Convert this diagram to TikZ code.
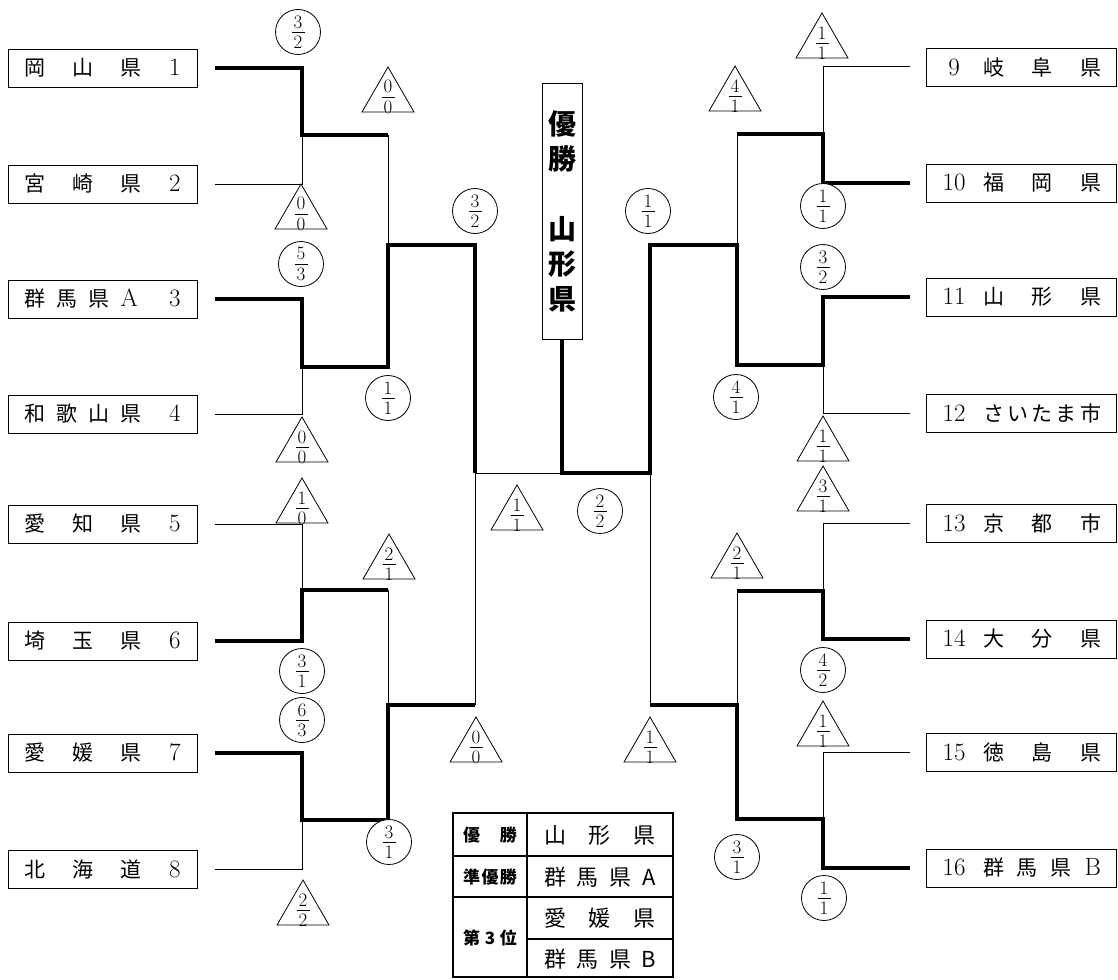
\documentclass[tikz,border=0pt]{standalone}
\usepackage{fontspec}
\newfontfamily\cjk{Noto Sans CJK JP}
\usetikzlibrary{shapes.geometric}
\newcommand\J[1]{{\cjk\fontsize{21}{24}\selectfont #1}}
\newcommand\scf[2]{{\fontsize{19}{22}\selectfont\vbox{\offinterlineskip\halign{\hfil##\hfil\cr #1\cr\noalign{\kern3.4pt}\rule{13pt}{0.6pt}\cr\noalign{\kern3.4pt}#2\cr}}}}
\begin{document}
\begin{tikzpicture}[x=1pt,y=-1pt,
 lose/.style={line width=1pt},
 win/.style={line width=3.2pt, line join=miter},
 lteam/.style={draw, line width=0.9pt, minimum width=189pt, minimum height=38pt, inner sep=0pt, font=\fontsize{25}{28}\selectfont},
 rteam/.style={lteam, minimum width=190pt},
 sc/.style={circle, draw, fill=white, line width=0.8pt, minimum size=45pt, inner sep=0pt},
 tri/.style={regular polygon, regular polygon sides=3, minimum size=60pt, draw, fill=white, line width=0.8pt, inner sep=0pt},
 champbox/.style={draw, line width=1pt, minimum width=40pt, minimum height=255pt, inner sep=0pt, align=center, font=\cjk\bfseries\fontsize{28}{35}\selectfont},
 hdr/.style={font=\cjk\bfseries\fontsize{17}{20}\selectfont, inner sep=0pt},
 res/.style={font=\cjk\fontsize{22}{26}\selectfont, inner sep=0pt},
 tbl/.style={line width=1.1pt}]
\useasboundingbox (0,0) rectangle (1118,979);

% ---------- left teams ----------
\node[lteam] (L1) at (102.5,68) {\hbox to 156pt{\J{岡}\hfil\J{山}\hfil\J{県}\hfil 1}};
\node[lteam] (L2) at (102.5,184) {\hbox to 156pt{\J{宮}\hfil\J{崎}\hfil\J{県}\hfil 2}};
\node[lteam] (L3) at (102.5,299) {\hbox to 156pt{\J{群}\hspace{11pt}\J{馬}\hspace{11pt}\J{県}\hspace{11pt}A\hfil 3}};
\node[lteam] (L4) at (102.5,414) {\hbox to 156pt{\J{和}\hspace{11pt}\J{歌}\hspace{11pt}\J{山}\hspace{11pt}\J{県}\hfil 4}};
\node[lteam] (L5) at (102.5,524) {\hbox to 156pt{\J{愛}\hfil\J{知}\hfil\J{県}\hfil 5}};
\node[lteam] (L6) at (102.5,641) {\hbox to 156pt{\J{埼}\hfil\J{玉}\hfil\J{県}\hfil 6}};
\node[lteam] (L7) at (102.5,753) {\hbox to 156pt{\J{愛}\hfil\J{媛}\hfil\J{県}\hfil 7}};
\node[lteam] (L8) at (102.5,869) {\hbox to 156pt{\J{北}\hfil\J{海}\hfil\J{道}\hfil 8}};

% ---------- right teams ----------
\node[rteam] (R9)  at (1021,67)  {\hbox to 160pt{\makebox[26pt]{9}\hspace{16pt}\J{岐}\hfil\J{阜}\hfil\J{県}}};
\node[rteam] (R10) at (1021,183) {\hbox to 160pt{\makebox[26pt]{10}\hspace{16pt}\J{福}\hfil\J{岡}\hfil\J{県}}};
\node[rteam] (R11) at (1021,297) {\hbox to 160pt{\makebox[26pt]{11}\hspace{16pt}\J{山}\hfil\J{形}\hfil\J{県}}};
\node[rteam] (R12) at (1021,413) {\hbox to 160pt{\makebox[26pt]{12}\hspace{16pt}\J{さ}\hfil\J{い}\hfil\J{た}\hfil\J{ま}\hfil\J{市}}};
\node[rteam] (R13) at (1021,523) {\hbox to 160pt{\makebox[26pt]{13}\hspace{16pt}\J{京}\hfil\J{都}\hfil\J{市}}};
\node[rteam] (R14) at (1021,639) {\hbox to 160pt{\makebox[26pt]{14}\hspace{16pt}\J{大}\hfil\J{分}\hfil\J{県}}};
\node[rteam] (R15) at (1021,752) {\hbox to 160pt{\makebox[26pt]{15}\hspace{16pt}\J{徳}\hfil\J{島}\hfil\J{県}}};
\node[rteam] (R16) at (1021,868) {\hbox to 160pt{\makebox[26pt]{16}\hspace{16pt}\J{群}\hfil\J{馬}\hfil\J{県}\hfil B}};

% ---------- champion ----------
\node[champbox] (champ) at (562,211.5) {優\\勝\\[35pt]山\\形\\県};

% ---------- junction coordinates ----------
\coordinate (a1) at (302,135); \coordinate (a2) at (388,135);
\coordinate (b1) at (302,367); \coordinate (b2) at (388,367);
\coordinate (c1) at (302,590); \coordinate (c2) at (388,590);
\coordinate (d1) at (302,820); \coordinate (d2) at (388,820);
\coordinate (ab) at (388,245); \coordinate (ab2) at (475,245);
\coordinate (cd) at (388,705); \coordinate (cd2) at (475,705);
\coordinate (fl) at (475,473);
\coordinate (fm) at (champ.south |- fl);
\coordinate (fr) at (650,473);
\coordinate (ef2) at (650,245); \coordinate (gh2) at (650,705);
\coordinate (ef) at (737,245); \coordinate (gh) at (737,705);
\coordinate (e1) at (823,134); \coordinate (e2) at (737,134);
\coordinate (f1) at (823,365); \coordinate (f2) at (737,365);
\coordinate (g1) at (823,591); \coordinate (g2) at (737,591);
\coordinate (h1) at (823,819); \coordinate (h2) at (737,819);

% ---------- losing lines ----------
\draw[lose] ([xshift=18pt]L2.east) -| (a1);
\draw[lose] ([xshift=18pt]L4.east) -| (b1);
\draw[lose] ([xshift=18pt]L5.east) -| (c1);
\draw[lose] ([xshift=18pt]L8.east) -| (d1);
\draw[lose] (a2) -- (ab);
\draw[lose] (c2) -- (cd);
\draw[lose] (cd2) -- (fl) -- (fm);
\draw[lose] ([xshift=-16pt]R9.west) -| (e1);
\draw[lose] ([xshift=-16pt]R12.west) -| (f1);
\draw[lose] ([xshift=-16pt]R13.west) -| (g1);
\draw[lose] ([xshift=-16pt]R15.west) -| (h1);
\draw[lose] (e2) -- (ef);
\draw[lose] (g2) -- (gh);
\draw[lose] (gh2) -- (fr);

% ---------- winning lines ----------
\draw[win] ([xshift=18pt]L1.east) -| (a1) -- (a2);
\draw[win] ([xshift=18pt]L3.east) -| (b1) -- (b2) -- (ab) -- (ab2) -- (fl);
\draw[win] ([xshift=18pt]L6.east) -| (c1) -- (c2);
\draw[win] ([xshift=18pt]L7.east) -| (d1) -- (d2) -- (cd) -- (cd2);
\draw[win] ([xshift=-16pt]R10.west) -| (e1) -- (e2);
\draw[win] ([xshift=-16pt]R11.west) -| (f1) -- (f2) -- (ef) -- (ef2) -- (fr) -- (fm) -- (champ.south);
\draw[win] ([xshift=-16pt]R14.west) -| (g1) -- (g2);
\draw[win] ([xshift=-16pt]R16.west) -| (h1) -- (h2) -- (gh) -- (gh2);

% ---------- scores left ----------
\node[sc] (s1) at (298,32) {\scf{3}{2}};
\node[tri, label={center:\scf{0}{0}}] (t1) at (388,97) {};
\node[tri, label={center:\scf{0}{0}}] (t2) at (301,214) {};
\node[sc] (s2) at (301,264) {\scf{5}{3}};
\node[sc] (s3) at (388,398) {\scf{1}{1}};
\node[tri, label={center:\scf{0}{0}}] (t3) at (302,447) {};
\node[tri, label={center:\scf{1}{0}}] (t4) at (302,508) {};
\node[tri, label={center:\scf{2}{1}}] (t5) at (389,564) {};
\node[sc] (s4) at (302,671) {\scf{3}{1}};
\node[sc] (s5) at (302,720) {\scf{6}{3}};
\node[sc] (s6) at (389,842) {\scf{3}{1}};
\node[tri, label={center:\scf{2}{2}}] (t6) at (303,910) {};
% ---------- scores centre ----------
\node[sc] (s7) at (475,211) {\scf{3}{2}};
\node[sc] (s8) at (648,211) {\scf{1}{1}};
\node[tri, label={center:\scf{1}{1}}] (t7) at (517,515) {};
\node[sc] (s9) at (600,511) {\scf{2}{2}};
\node[tri, label={center:\scf{0}{0}}] (t8) at (476,747) {};
\node[tri, label={center:\scf{1}{1}}] (t9) at (650,747) {};
% ---------- scores right ----------
\node[tri, label={center:\scf{1}{1}}] (t10) at (822,43) {};
\node[tri, label={center:\scf{4}{1}}] (t11) at (735,96) {};
\node[sc] (s10) at (823,206) {\scf{1}{1}};
\node[sc] (s11) at (823,267) {\scf{3}{2}};
\node[sc] (s12) at (736,397) {\scf{4}{1}};
\node[tri, label={center:\scf{1}{1}}] (t12) at (823,446) {};
\node[tri, label={center:\scf{3}{1}}] (t13) at (823,496) {};
\node[tri, label={center:\scf{2}{1}}] (t14) at (737,563) {};
\node[sc] (s13) at (823,670) {\scf{4}{2}};
\node[tri, label={center:\scf{1}{1}}] (t15) at (823,731) {};
\node[sc] (s14) at (737,857) {\scf{3}{1}};
\node[sc] (s15) at (824,898) {\scf{1}{1}};

% ---------- result table ----------
\draw[tbl] (453,813) rectangle (673,977);
\draw[tbl] (453,856) -- (673,856);
\draw[tbl] (453,897) -- (673,897);
\draw[tbl] (527,939) -- (673,939);
\draw[tbl] (527,813) -- (527,977);
\node[hdr] (k1) at (490,835) {\hbox to 54pt{優\hfil 勝}};
\node[hdr] (k2) at (490,877) {\hbox to 54pt{準\hfil 優\hfil 勝}};
\node[hdr] (k3) at (490,938) {\hbox to 54pt{第\hfil 3\hfil 位}};
\node[res] (v1) at (600,835) {\hbox to 112pt{山\hfil 形\hfil 県}};
\node[res] (v2) at (600,877) {\hbox to 112pt{群\hfil 馬\hfil 県\hfil A}};
\node[res] (v3) at (600,918) {\hbox to 112pt{愛\hfil 媛\hfil 県}};
\node[res] (v4) at (600,959) {\hbox to 112pt{群\hfil 馬\hfil 県\hfil B}};
\end{tikzpicture}
\end{document}
